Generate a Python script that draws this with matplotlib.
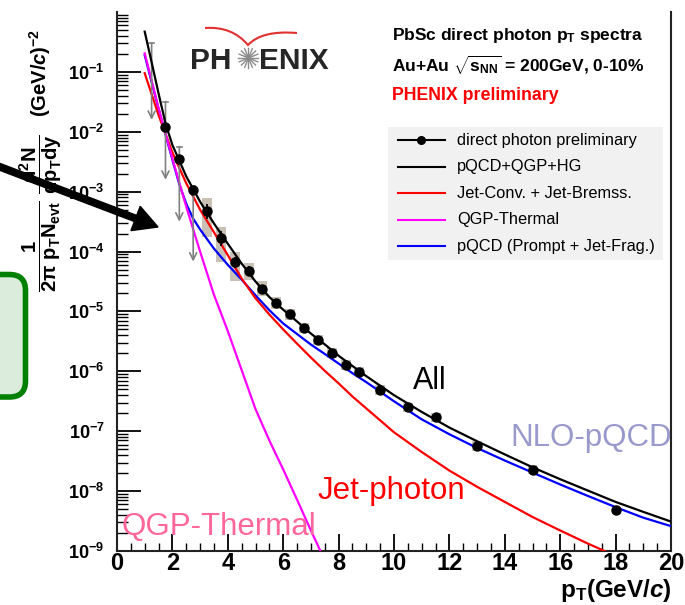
import numpy as np
import matplotlib
matplotlib.use("Agg")
import matplotlib.pyplot as plt
from matplotlib.patches import Rectangle, FancyBboxPatch, FancyArrow, PathPatch
from matplotlib.path import Path
from matplotlib.ticker import LogLocator, NullFormatter, MultipleLocator, FixedLocator, FixedFormatter

W, H = 685, 605

# measured direct photon points
pt_data = [1.75, 2.25, 2.75, 3.25, 3.75, 4.25, 4.75, 5.25, 5.75, 6.25, 6.75,
           7.25, 7.75, 8.25, 8.75, 9.5, 10.5, 11.5, 13.0, 15.0, 18.0]
y_data = [1.21e-2, 3.53e-3, 1.05e-3, 4.79e-4, 1.70e-4, 6.7e-5, 4.8e-5, 2.35e-5,
          1.38e-5, 9.0e-6, 5.25e-6, 3.36e-6, 2.06e-6, 1.29e-6, 9.9e-7, 4.9e-7,
          2.5e-7, 1.72e-7, 5.7e-8, 2.27e-8, 4.9e-9]
stat_rel = [0.1, 0.1, 0.1, 0.28, 0.28, 0.22, 0.18, 0.14, 0.1, 0.1, 0.1,
            0.1, 0.1, 0.1, 0.1, 0.1, 0.1, 0.1, 0.1, 0.1, 0.1]

# systematic boxes
box_pt = [3.25, 3.75, 4.25, 4.75, 5.25, 5.75, 6.25, 6.75, 7.25, 7.75, 8.25,
          8.75, 9.5, 10.5, 11.5, 13.0, 15.0]
box_lo = [1.78e-4, 6.8e-5, 3.2e-5, 3.4e-5, 1.8e-5, 1.1e-5, 7.3e-6, 4.3e-6,
          2.8e-6, 1.7e-6, 1.07e-6, 8.3e-7, 4.0e-7, 2.1e-7, 1.45e-7, 4.7e-8, 1.9e-8]
box_hi = [7.9e-4, 2.6e-4, 1.0e-4, 6.5e-5, 3.2e-5, 1.75e-5, 1.1e-5, 6.4e-6,
          4.0e-6, 2.45e-6, 1.55e-6, 1.18e-6, 6.0e-7, 3.0e-7, 2.05e-7, 6.9e-8, 2.7e-8]

# upper limits
ul_pt = [1.25, 1.75, 2.25, 2.75]
ul_top = [0.305, 3.19e-2, 5.66e-3, 1.26e-3]
ul_tip = [1.58e-2, 1.58e-3, 3.16e-4, 6.8e-5]

# theory curves
tot_pt = [1.0, 1.25, 1.5, 1.75, 2.0, 2.25, 2.5, 3.0, 3.5, 4.0, 4.5, 5.0, 5.5, 6.0,
          6.5, 7.0, 7.5, 8.0, 9.0, 10, 11, 12, 13, 14, 15, 16, 17, 18, 19, 20]
tot_y = [0.47, 0.145, 4.37e-2, 1.38e-2, 6.0e-3, 3.3e-3, 1.8e-3, 6.8e-4, 2.95e-4,
         1.35e-4, 6.3e-5, 3.16e-5, 1.74e-5, 1.07e-5, 6.8e-6, 4.27e-6, 2.82e-6,
         1.82e-6, 8.3e-7, 4.0e-7, 2.1e-7, 1.15e-7, 6.8e-8, 4.1e-8, 2.5e-8,
         1.58e-8, 1.02e-8, 6.6e-9, 4.5e-9, 3.1e-9]

pqcd_pt = [1.0, 1.5, 2.0, 2.25, 2.5, 2.75, 3.0, 3.5, 4.0, 4.5, 5.0, 5.5, 6.0, 6.5,
           7.0, 7.5, 8.0, 8.5, 9.0, 10, 11, 12, 13, 14, 15, 16, 17, 18, 19, 20]
pqcd_y = [0.19, 2.4e-2, 3.4e-3, 1.32e-3, 6.3e-4, 3.55e-4, 2.34e-4, 1.12e-4, 6.0e-5,
          3.4e-5, 1.86e-5, 1.05e-5, 6.3e-6, 4.2e-6, 2.8e-6, 1.95e-6, 1.35e-6,
          9.3e-7, 6.6e-7, 3.16e-7, 1.58e-7, 8.9e-8, 5.25e-8, 3.24e-8, 2.04e-8,
          1.29e-8, 8.3e-9, 5.4e-9, 3.6e-9, 2.6e-9]

jet_pt = [1.0, 1.5, 2.0, 2.5, 3.0, 3.5, 4.0, 4.5, 5.0, 5.5, 6.0, 6.5, 7.0, 7.5,
          8.0, 8.5, 9.0, 9.5, 10, 11, 12, 13, 14, 15, 16, 17, 17.6, 18]
jet_y = [9.5e-2, 1.9e-2, 4.5e-3, 1.38e-3, 5.0e-4, 2.1e-4, 8.7e-5, 3.55e-5, 1.66e-5,
         8.9e-6, 5.0e-6, 2.9e-6, 1.7e-6, 1.02e-6, 6.3e-7, 3.8e-7, 2.4e-7, 1.52e-7,
         9.6e-8, 4.5e-8, 2.2e-8, 1.18e-8, 6.6e-9, 3.7e-9, 2.2e-9, 1.33e-9,
         1.0e-9, 8.0e-10]

therm_pt = [1.0, 1.5, 2.0, 2.5, 3.0, 3.5, 4.0, 4.5, 5.0, 5.5, 6.0, 6.5, 7.0, 7.5]
therm_y = [0.204, 2.5e-2, 3.55e-3, 5.6e-4, 1.0e-4, 1.9e-5, 4.7e-6, 1.05e-6,
           2.34e-7, 7.0e-8, 2.3e-8, 7.2e-9, 2.2e-9, 7.0e-10]

legend_labels = ["direct photon preliminary", "pQCD+QGP+HG",
                 "Jet-Conv. + Jet-Bremss.", "QGP-Thermal", "pQCD (Prompt + Jet-Frag.)"]
legend_colors = ["black", "black", "#ff0000", "#ff00ff", "#0000ff"]

y_ticks = [1e-9, 1e-8, 1e-7, 1e-6, 1e-5, 1e-4, 1e-3, 1e-2, 1e-1]
y_tick_labels = [r"$\mathdefault{10^{-%d}}$" % k for k in range(9, 0, -1)]

plt.rcParams.update({
    "font.family": "Liberation Sans",
    "mathtext.fontset": "custom",
    "mathtext.rm": "Liberation Sans",
    "mathtext.bf": "Liberation Sans:bold",
    "mathtext.it": "Liberation Sans:italic:bold",
    "mathtext.default": "bf",
})

fig = plt.figure(figsize=(W / 100, H / 100), dpi=100)
ax = fig.add_axes([117 / W, 1 - 551 / H, (671 - 117) / W, (551 - 12) / H])
ax.set_yscale("log")
ax.set_xlim(0, 20)
ax.set_ylim(1e-9, 1)

# systematic boxes
for p, lo, hi in zip(box_pt, box_lo, box_hi):
    ax.add_patch(Rectangle((p - 0.18, lo), 0.36, hi - lo, facecolor="#c9c0b6",
                           edgecolor="none", zorder=2))

ax.plot(pqcd_pt, pqcd_y, color="#0000ff", lw=1.6, zorder=3)
ax.plot(jet_pt, jet_y, color="#ff0000", lw=1.6, zorder=3)
ax.plot(therm_pt, therm_y, color="#ff00ff", lw=1.6, zorder=4)
ax.plot(tot_pt, tot_y, color="black", lw=1.6, zorder=5)

# upper limit arrows
for p, top, tip in zip(ul_pt, ul_top, ul_tip):
    ax.annotate("", xy=(p, tip), xytext=(p, top),
                arrowprops=dict(arrowstyle="->,head_length=0.5,head_width=0.25",
                                color="#808080", lw=1.2, shrinkA=0, shrinkB=0),
                zorder=4)
    ax.plot([p - 0.08, p + 0.08], [top, top], color="#808080", lw=1.2, zorder=4)

yd = np.array(y_data)
ax.errorbar(pt_data, y_data, yerr=yd * np.array(stat_rel), fmt="o", color="black",
            ms=6.5, elinewidth=1.3, capsize=0, zorder=6)

# axes style
ax.spines["top"].set_visible(False)
for s in ["left", "bottom", "right"]:
    ax.spines[s].set_linewidth(1.5)
    ax.spines[s].set_color("#222222")
ax.xaxis.set_major_locator(MultipleLocator(2))
ax.xaxis.set_minor_locator(MultipleLocator(0.5))
ax.yaxis.set_major_locator(FixedLocator(y_ticks))
ax.yaxis.set_major_formatter(FixedFormatter(y_tick_labels))
ax.yaxis.set_minor_locator(LogLocator(base=10, subs=np.arange(2, 10), numticks=20))
ax.yaxis.set_minor_formatter(NullFormatter())
ax.tick_params(axis="y", which="major", direction="in", length=17, width=1.3,
               labelsize=13, pad=9, right=False)
ax.tick_params(axis="y", which="minor", direction="in", length=8, width=1, right=False)
ax.tick_params(axis="x", which="major", direction="in", length=12, width=1.3,
               labelsize=17, pad=1, top=False)
ax.tick_params(axis="x", which="minor", direction="in", length=6, width=1, top=False)
for lab in ax.get_xticklabels() + ax.get_yticklabels():
    lab.set_fontweight("bold")

# overlay in pixel coordinates for annotations
ov = fig.add_axes([0, 0, 1, 1], zorder=10)
ov.set_xlim(0, W)
ov.set_ylim(H, 0)
ov.axis("off")

ov.text(41, 160, r"$\dfrac{1}{2\pi\ p_T N_{evt}}\ \dfrac{d^2N}{dp_T dy}$   (GeV/$\mathit{c}$)$^{-2}$",
        rotation=90, ha="center", va="center", fontsize=14.5, fontweight="bold")
ov.text(672, 597, r"$p_T$(GeV/$\mathit{c}$)", ha="right", va="baseline",
        fontsize=17.5, fontweight="bold")

# green box and arrow
ov.add_patch(FancyBboxPatch((-40, 274.5), 65.5, 122.5,
                            boxstyle="round,pad=0,rounding_size=16",
                            facecolor="#dcecdc", edgecolor="#008000", lw=4, zorder=1))
ov.add_patch(FancyArrow(-5, 165, 163, 62, width=6.5, head_width=26, head_length=24,
                        length_includes_head=True, color="black", zorder=3))

# PHENIX logo
ov.text(190, 69, "PH", fontsize=21.5, fontweight="bold", color="#262626", va="baseline")
ov.text(259, 69, "ENIX", fontsize=21.5, fontweight="bold", color="#262626", va="baseline")
for a in np.linspace(0, np.pi, 8, endpoint=False):
    ov.plot([248.5 - 10 * np.cos(a), 248.5 + 10 * np.cos(a)],
            [58 - 10 * np.sin(a), 58 + 10 * np.sin(a)], color="#8a8a8a", lw=1)
arc = Path([(205, 28), (232, 26), (248, 45), (262, 30), (297, 33)],
           [Path.MOVETO, Path.CURVE3, Path.CURVE3, Path.CURVE3, Path.CURVE3])
ov.add_patch(PathPatch(arc, facecolor="none", edgecolor="#e03030", lw=1.5))

# header text
ov.text(392, 40, r"PbSc direct photon $p_T$ spectra", fontsize=12.5, fontweight="bold",
        va="baseline")
ov.text(392, 71, r"Au+Au $\sqrt{s_{NN}}$ = 200GeV, 0-10%", fontsize=12.5,
        fontweight="bold", va="baseline")
ov.text(392, 100, "PHENIX preliminary", fontsize=12.8, fontweight="bold",
        color="#ff0000", va="baseline")

# legend
ov.add_patch(Rectangle((388, 127), 275, 133, facecolor="#f1f1f1", edgecolor="none"))
for i, (lab, col) in enumerate(zip(legend_labels, legend_colors)):
    yy = 140 + 26.6 * i
    ov.plot([398, 445], [yy, yy], color=col, lw=1.5)
    if i == 0:
        ov.plot([421.5], [yy], "o", color="black", ms=5.5)
    ov.text(457, yy, lab, fontsize=11.8, va="center")

# curve labels
ov.text(413, 389, "All", fontsize=22, color="black", va="baseline")
ov.text(510, 446, "NLO-pQCD", fontsize=22.5, color="#9999cc", va="baseline")
ov.text(318, 499, "Jet-photon", fontsize=22.5, color="#ff0000", va="baseline")
ov.text(122, 535, "QGP-Thermal", fontsize=22.5, color="#ff6699", va="baseline")

fig.savefig("out.png", dpi=100)
